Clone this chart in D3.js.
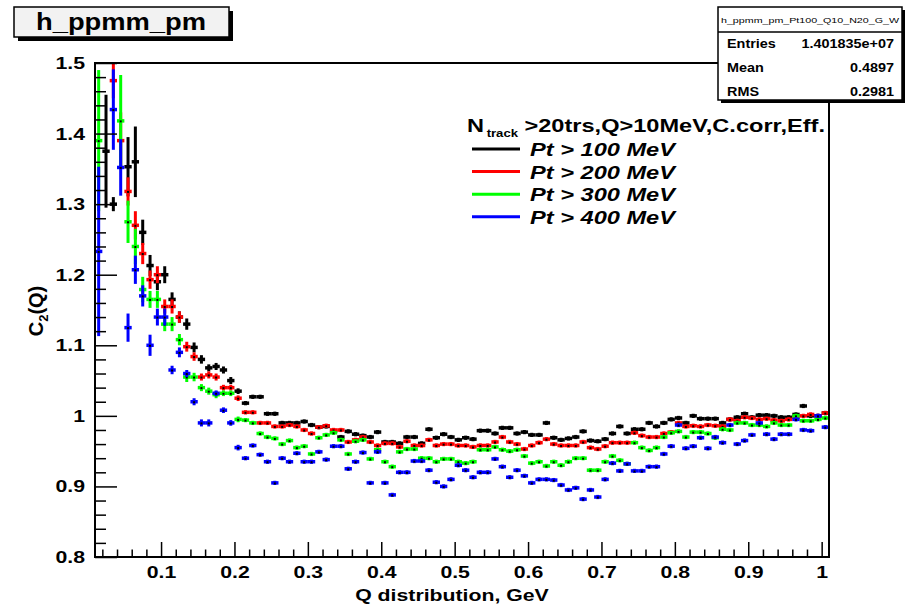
<!DOCTYPE html>
<html lang="en">
<head>
<meta charset="utf-8">
<script src="https://d3js.org/d3.v7.min.js"></script>
<style>
  body { margin: 0; background: #fff; }
  svg text { font-family: "Liberation Sans", Arial, sans-serif; font-weight: bold; }
</style>
</head>
<body>
<script>
// histogram binning, like the TH1: 100 bins of 10 MeV starting at Q = 0.01 GeV
var nBins = 100, qMin = 0.01, binW = 0.01;

// C2(Q) per bin, null where the point is hidden / not visible
var pt100 = [null, 1.375, 1.30, null, 1.353, 1.36, 1.26, 1.213, 1.19, 1.20,
  1.165, 1.14, 1.13, 1.097, 1.08, 1.068, 1.07, 1.065, 1.05, 1.035,
  1.018, 1.027, 1.027, 1.003, 1.003, 0.99, 0.99, 0.99, 0.992, 0.987,
  0.984, 0.985, 0.978, 0.97, 0.978, 0.974, 0.972, 0.97, 0.977, 0.963,
  0.963, 0.961, 0.97, 0.97, 0.961, 0.981, 0.969, 0.974, 0.97, 0.966,
  0.969, 0.967, 0.979, 0.979, 0.975, 0.983, 0.983, 0.975, 0.977, 0.973,
  0.973, 0.99, 0.969, 0.966, 0.968, 0.97, 0.978, 0.965, 0.964, 0.967,
  0.975, 0.985, 0.975, 0.981, 0.981, 0.99, 0.985, 0.99, 0.995, 0.997,
  0.99, 1.0, 0.996, 0.996, 0.996, 0.99, 0.995, 0.998, 1.003, 0.998,
  1.001, 1.001, 1.0, 0.998, 0.998, 1.002, 1.014, 1.0, 1.0, 1.004];

var pt200 = [null, null, 1.475, 1.39, 1.318, 1.27, 1.23, 1.193, 1.20, 1.155,
  1.155, 1.14, 1.098, 1.084, 1.055, 1.058, 1.055, 1.04, 1.04, 1.025,
  1.005, 1.005, 0.99, 0.99, 0.985, 0.985, 0.987, 0.985, 0.98, 0.975,
  0.984, 0.986, 0.98, 0.98, 0.963, 0.966, 0.97, 0.963, 0.958, 0.961,
  0.961, 0.956, 0.964, 0.958, 0.958, 0.966, 0.958, 0.96, 0.96, 0.958,
  0.958, 0.956, 0.958, 0.958, 0.963, 0.97, 0.963, 0.96, 0.953, 0.958,
  0.962, 0.967, 0.96, 0.958, 0.958, 0.958, 0.963, 0.955, 0.953, 0.957,
  0.962, 0.962, 0.962, 0.976, 0.972, 0.97, 0.97, 0.975, 0.977, 0.99,
  0.985, 0.986, 0.985, 0.987, 0.986, 0.985, 0.995, 0.993, 0.998, 0.997,
  0.995, 0.996, 0.994, 0.993, 0.995, 0.998, 1.0, 1.002, 1.0, 1.004];

var pt300 = [1.39, null, null, 1.418, 1.275, 1.24, 1.179, 1.165, 1.165, 1.13,
  1.13, 1.108, 1.055, 1.055, 1.04, 1.035, 1.03, 1.032, 1.032, 0.995,
  0.994, 0.99, 0.975, 0.97, 0.968, 0.96, 0.965, 0.955, 0.957, 0.946,
  0.969, 0.973, 0.976, 0.966, 0.946, 0.964, 0.966, 0.939, 0.952, 0.935,
  0.928, 0.949, 0.953, 0.953, 0.94, 0.94, 0.935, 0.939, 0.939, 0.935,
  0.933, 0.935, 0.952, 0.952, 0.956, 0.952, 0.95, 0.952, 0.943, 0.933,
  0.935, 0.929, 0.935, 0.93, 0.935, 0.94, 0.94, 0.923, 0.923, 0.935,
  0.943, 0.937, 0.932, 0.962, 0.955, 0.951, 0.955, 0.97, 0.976, 0.978,
  0.97, 0.977, 0.977, 0.975, 0.969, 0.981, 0.98, 0.99, 0.99, 0.987,
  0.987, 0.985, 0.99, 0.987, 0.987, 1.0, 0.993, 0.993, 0.995, 0.997];

var pt400 = [1.233, null, 1.434, 1.352, 1.125, 1.207, 1.17, 1.10, 1.14, 1.14,
  1.065, 1.09, 1.06, 1.02, 0.99, 0.99, 1.032, 1.008, 0.99, 0.955,
  0.94, 0.958, 0.945, 0.935, 0.905, 0.94, 0.935, 0.947, 0.935, 0.935,
  0.949, 0.938, 0.957, 0.957, 0.925, 0.935, 0.948, 0.905, 0.949, 0.905,
  0.888, 0.92, 0.92, 0.936, 0.936, 0.923, 0.906, 0.9, 0.91, 0.93,
  0.923, 0.913, 0.92, 0.92, 0.939, 0.928, 0.913, 0.923, 0.915, 0.905,
  0.91, 0.91, 0.909, 0.902, 0.895, 0.898, 0.882, 0.895, 0.885, 0.91,
  0.933, 0.922, 0.932, 0.922, 0.922, 0.928, 0.928, 0.946, 0.957, 0.987,
  0.954, 0.957, 0.969, 0.954, 0.97, 0.962, 0.987, 0.96, 0.965, 0.973,
  0.99, 0.974, 0.967, 0.974, 0.974, 0.995, 0.98, 0.979, 1.0, 0.984];

// errors of the first bins (the rest are tiny)
var err100 = [0.09, 0.08, 0.01, 0.06, 0.042, 0.05, 0.018, 0.015, 0.012, 0.012, 0.01, 0.008, 0.008, 0.007, 0.006, 0.005, 0.005, 0.005, 0.005, 0.004];
var err200 = [0.09, 0.08, 0.025, 0.04, 0.02, 0.02, 0.015, 0.013, 0.012, 0.01, 0.01, 0.008, 0.007, 0.006, 0.005, 0.005, 0.005, 0.004, 0.004, 0.004];
var err300 = [0.10, 0.08, 0.05, 0.065, 0.03, 0.025, 0.018, 0.012, 0.012, 0.01, 0.01, 0.008, 0.007, 0.006, 0.005, 0.005, 0.005, 0.004, 0.004, 0.004];
var err400 = [0.12, 0.08, 0.057, 0.04, 0.02, 0.02, 0.015, 0.015, 0.012, 0.012, 0.006, 0.007, 0.005, 0.005, 0.005, 0.005, 0.004, 0.004, 0.004, 0.004];
var tailErr = 0.003;

var seriesNames = ["Pt > 100 MeV", "Pt > 200 MeV", "Pt > 300 MeV", "Pt > 400 MeV"];
var seriesColors = ["#000000", "#ff0000", "#00ff00", "#0000ff"];

var xTicks = [0.1, 0.2, 0.3, 0.4, 0.5, 0.6, 0.7, 0.8, 0.9, 1.0];
var xTickLabels = ["0.1", "0.2", "0.3", "0.4", "0.5", "0.6", "0.7", "0.8", "0.9", "1"];
var yTicks = [0.8, 0.9, 1.0, 1.1, 1.2, 1.3, 1.4, 1.5];
var yTickLabels = ["0.8", "0.9", "1", "1.1", "1.2", "1.3", "1.4", "1.5"];

var statsLabels = ["Entries", "Mean", "RMS"];
var statsValues = ["1.401835e+07", "0.4897", "0.2981"];

// ----- canvas -----
var W = 906, H = 607;
var padL = 95, padR = 829, padT = 63, padB = 557;

var svg = d3.select("body").append("svg").attr("width", W).attr("height", H);
svg.append("rect").attr("width", W).attr("height", H).attr("fill", "#fff");

var x = d3.scaleLinear().domain([qMin, qMin + nBins * binW]).range([padL, padR]);
var y = d3.scaleLinear().domain([0.8, 1.5]).range([padB, padT]);

// glyphs in the picture are a bit wider than normal
function widen(sel, k) {
  sel.each(function () {
    var w = this.getComputedTextLength();
    d3.select(this).attr("textLength", w * k).attr("lengthAdjust", "spacingAndGlyphs");
  });
}

svg.append("clipPath").attr("id", "frame")
  .append("rect").attr("x", padL).attr("y", padT).attr("width", padR - padL).attr("height", padB - padT);

// ----- points with error bars -----
var all = [pt100, pt200, pt300, pt400];
var errs = [err100, err200, err300, err400];
var plot = svg.append("g").attr("clip-path", "url(#frame)");

all.forEach(function (vals, s) {
  var pts = [];
  vals.forEach(function (v, i) {
    if (v === null) return;
    var lo = qMin + i * binW;
    pts.push({ lo: lo, hi: lo + binW, c: lo + binW / 2, v: v, e: i < errs[s].length ? errs[s][i] : tailErr });
  });
  var g = plot.append("g");
  g.selectAll(".h").data(pts).enter().append("line")
    .attr("x1", function (d) { return x(d.lo); })
    .attr("x2", function (d) { return x(d.hi); })
    .attr("y1", function (d) { return y(d.v); })
    .attr("y2", function (d) { return y(d.v); })
    .attr("stroke", seriesColors[s]).attr("stroke-width", 3.5);
  g.selectAll(".v").data(pts).enter().append("line")
    .attr("x1", function (d) { return x(d.c); })
    .attr("x2", function (d) { return x(d.c); })
    .attr("y1", function (d) { return y(d.v - d.e); })
    .attr("y2", function (d) { return y(d.v + d.e); })
    .attr("stroke", seriesColors[s]).attr("stroke-width", 3);
  g.selectAll(".m").data(pts).enter().append("rect")
    .attr("x", function (d) { return x(d.c) - 1; })
    .attr("y", function (d) { return y(d.v) - 0.5; })
    .attr("width", 2).attr("height", 2)
    .attr("fill", "#000");
});

// ----- axes (ticks inside the frame) -----
var xMinor = d3.range(0.02, 1.011, 0.02).filter(function (d) { return Math.abs(d * 10 - Math.round(d * 10)) > 1e-6; });
var yMinor = d3.range(0.82, 1.5, 0.02).filter(function (d) { return Math.abs(d * 10 - Math.round(d * 10)) > 1e-6; });

var gx = svg.append("g").attr("transform", "translate(0," + padB + ")")
  .call(d3.axisBottom(x).tickValues(xTicks).tickSize(-15).tickSizeOuter(0).tickPadding(9)
    .tickFormat(function (d, i) { return xTickLabels[i]; }));
svg.append("g").attr("transform", "translate(0," + padB + ")")
  .call(d3.axisBottom(x).tickValues(xMinor).tickSize(-7.5).tickSizeOuter(0).tickFormat(""));

var gy = svg.append("g").attr("transform", "translate(" + padL + ",0)")
  .call(d3.axisLeft(y).tickValues(yTicks).tickSize(-22).tickSizeOuter(0).tickPadding(10)
    .tickFormat(function (d, i) { return yTickLabels[i]; }));
svg.append("g").attr("transform", "translate(" + padL + ",0)")
  .call(d3.axisLeft(y).tickValues(yMinor).tickSize(-11).tickSizeOuter(0).tickFormat(""));

svg.selectAll(".domain").remove();
svg.selectAll(".tick line").attr("stroke", "#000").attr("stroke-width", 1.5);
svg.selectAll(".tick text").attr("fill", "#000").style("font-size", "17px");
widen(gx.selectAll(".tick text"), 1.25);
widen(gy.selectAll(".tick text"), 1.25);

// frame
svg.append("rect").attr("x", padL).attr("y", padT)
  .attr("width", padR - padL).attr("height", padB - padT)
  .attr("fill", "none").attr("stroke", "#000").attr("stroke-width", 2);

// axis titles
var xt = svg.append("text").attr("x", 452).attr("y", 601)
  .attr("text-anchor", "middle").style("font-size", "17px").text("Q distribution, GeV");
widen(xt, 1.25);

var yt = svg.append("text").attr("transform", "translate(43,311) rotate(-90)")
  .attr("text-anchor", "middle").style("font-size", "20px");
yt.append("tspan").text("C");
yt.append("tspan").attr("dy", 5).style("font-size", "13px").text("2");
yt.append("tspan").attr("dy", -5).text("(Q)");

// ----- title box -----
svg.append("rect").attr("x", 18).attr("y", 11).attr("width", 215).attr("height", 30).attr("fill", "#000");
svg.append("rect").attr("x", 14).attr("y", 7).attr("width", 215).attr("height", 30)
  .attr("fill", "#f2f2f2").attr("stroke", "#000").attr("stroke-width", 1.5);
svg.append("text").attr("x", 121).attr("y", 30).attr("text-anchor", "middle")
  .style("font-size", "23px").attr("textLength", 170).attr("lengthAdjust", "spacingAndGlyphs")
  .text("h_ppmm_pm");

// ----- stats box -----
svg.append("rect").attr("x", 721).attr("y", 10).attr("width", 184).attr("height", 93).attr("fill", "#000");
svg.append("rect").attr("x", 718).attr("y", 7).attr("width", 184).attr("height", 93)
  .attr("fill", "#fff").attr("stroke", "#000").attr("stroke-width", 1.5);
svg.append("line").attr("x1", 718).attr("x2", 902).attr("y1", 32).attr("y2", 32)
  .attr("stroke", "#000").attr("stroke-width", 1.5);
svg.append("text").attr("x", 810).attr("y", 23).attr("text-anchor", "middle")
  .style("font-size", "8px").style("font-weight", "normal")
  .attr("textLength", 178).attr("lengthAdjust", "spacingAndGlyphs")
  .text("h_ppmm_pm_Pt100_Q10_N20_G_W");
statsLabels.forEach(function (lab, i) {
  var yy = 48 + i * 24;
  widen(svg.append("text").attr("x", 727).attr("y", yy).style("font-size", "12px").text(lab), 1.2);
  widen(svg.append("text").attr("x", 894).attr("y", yy).attr("text-anchor", "end")
    .style("font-size", "12px").text(statsValues[i]), 1.2);
});

// ----- legend -----
var hd = svg.append("text").attr("x", 467).attr("y", 132).style("font-size", "18px");
hd.append("tspan").text("N");
hd.append("tspan").attr("dy", 5).attr("dx", 2).style("font-size", "10px").text("track");
hd.append("tspan").attr("dy", -5).attr("dx", 5).text(">20trs,Q>10MeV,C.corr,Eff.");
hd.attr("textLength", 358).attr("lengthAdjust", "spacingAndGlyphs");

seriesNames.forEach(function (name, i) {
  var ly = 149 + i * 22.6;
  svg.append("line").attr("x1", 472).attr("x2", 520).attr("y1", ly).attr("y2", ly)
    .attr("stroke", seriesColors[i]).attr("stroke-width", 3);
  svg.append("text").attr("x", 530).attr("y", ly + 7)
    .style("font-size", "19px").style("font-style", "italic")
    .attr("textLength", 145).attr("lengthAdjust", "spacingAndGlyphs")
    .text(name);
});
</script>
</body>
</html>
